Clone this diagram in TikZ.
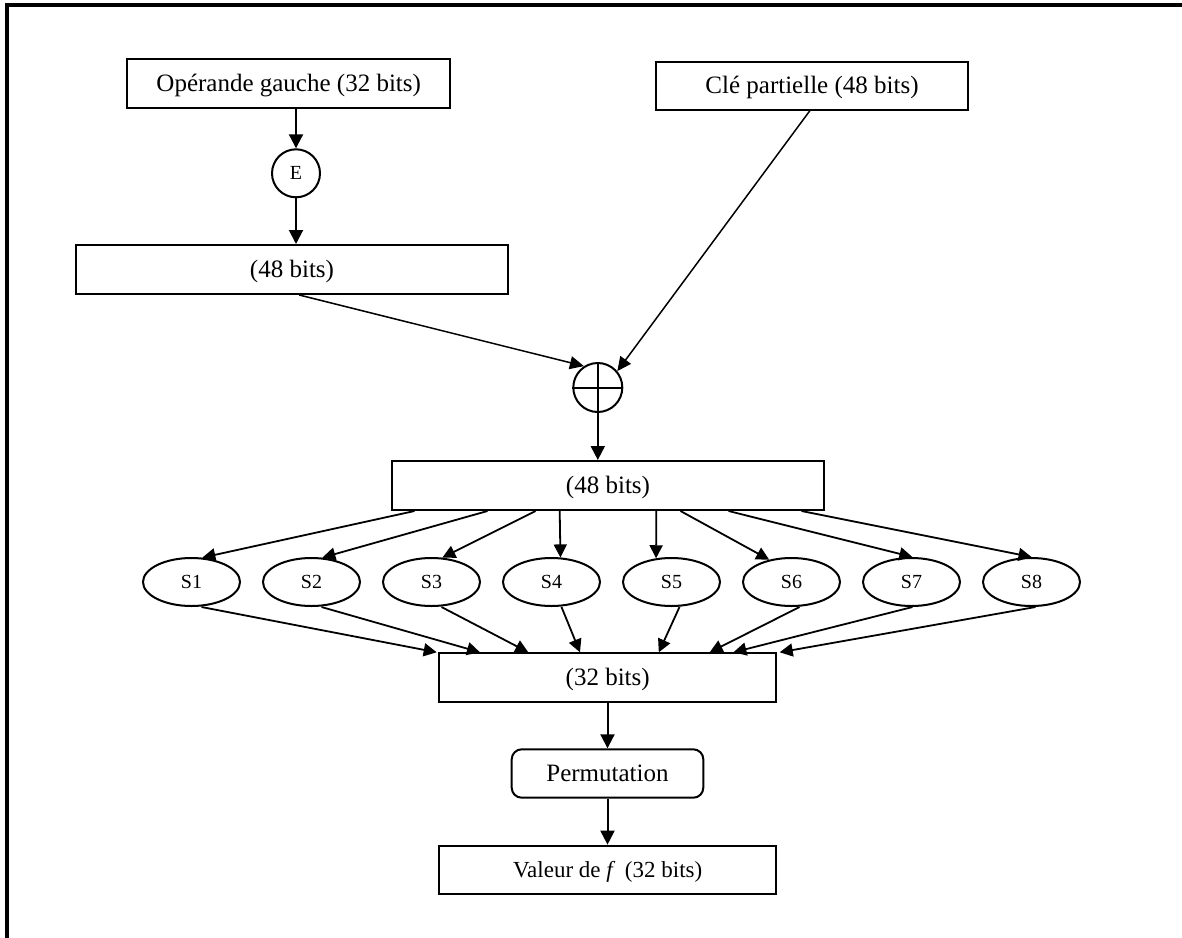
\documentclass[tikz,border=0pt]{standalone}
\usepackage{fontspec}
\setmainfont{Liberation Serif}
\usetikzlibrary{arrows.meta,shapes.geometric}
\begin{document}
\begin{tikzpicture}[x=1pt,y=-1pt,
  box/.style={draw, line width=2pt, inner sep=0pt, rectangle,
    font=\fontsize{25}{30}\selectfont, text height=20pt, text depth=5pt},
  sbox/.style={draw, line width=2pt, inner sep=0pt, ellipse,
    minimum width=97pt, minimum height=48pt,
    font=\fontsize{20}{24}\selectfont, text height=15pt, text depth=2pt},
  ebox/.style={draw, line width=2pt, inner sep=0pt, circle,
    minimum size=48pt, font=\fontsize{20}{24}\selectfont, text height=15pt, text depth=2pt},
  xorbox/.style={draw, line width=2pt, inner sep=0pt, circle, minimum size=49pt},
  arr/.style={line width=2pt, -{Triangle[length=14pt,width=14pt]}},
  sarr/.style={line width=1.8pt, -{Triangle[length=13pt,width=13pt]}},
  thinarr/.style={line width=1.5pt, -{Triangle[length=14pt,width=13pt]}},
  frame/.style={line width=4pt}
]
\useasboundingbox (0,0) rectangle (1182,937);
\draw[frame] (7,1000) -- (7,5) -- (1300,5);

\node[box, minimum width=322.7pt, minimum height=49pt] (op) at (288.7,83.8) {Opérande gauche (32 bits)};
\node[ebox] (E) at (296,173.3) {E};
\node[box, minimum width=432.7pt, minimum height=49pt] (l48) at (292,269.5) {(48 bits)};
\node[box, minimum width=312.7pt, minimum height=48pt] (cle) at (812,85.5) {Clé partielle (48 bits)};
\node[xorbox] (xor) at (597.8,387.5) {};
\draw[line width=2pt] (xor.north) -- (xor.south) (xor.west) -- (xor.east);
\node[box, minimum width=432.6pt, minimum height=49pt] (big) at (608,485.5) {(48 bits)};
\foreach \i in {1,...,8} {
  \node[sbox] (S\i) at ({191.5+120*(\i-1)},582) {S\i};
}
\node[box, minimum width=336.7pt, minimum height=48.4pt] (b32) at (607.7,677.5) {(32 bits)};
\node[box, rounded corners=10pt, minimum width=191.6pt, minimum height=48.4pt] (perm) at (607.5,773.5) {Permutation};
\node[box, minimum width=336.7pt, minimum height=48.3pt, font=\fontsize{23}{28}\selectfont] (val) at (607.7,869.8) {Valeur de \textit{f}\, (32 bits)};

\draw[arr] (op.south -| E) -- (E.north);
\draw[arr] (E.south) -- (E |- l48.north);
\draw[thinarr] ([xshift=7.3pt]l48.south) -- (xor.123);
\draw[thinarr] ([xshift=-2pt]cle.south) -- (xor.40);
\draw[arr] (xor.south) -- (xor |- big.north);

\foreach \i/\sx/\ta/\bx/\ex in {1/-193.5/66.9/10/-171, 2/-120.5/66.9/10/-127.7,
  3/-72.5/66.9/10/-79.4, 4/-48.3/70.2/10/-27.7, 5/48.3/123.3/8/51.1,
  6/72.5/135/8/102, 7/120.5/88.5/1/125.7, 8/193.5/90/4/172} {
  \draw[sarr] ([xshift=\sx pt]big.south) -- (S\i.\ta);
  \draw[sarr] ([xshift=\bx pt]S\i.south) -- ([xshift=\ex pt]b32.north);
}

\draw[arr] (b32.south -| perm) -- (perm.north);
\draw[arr] (perm.south) -- (perm |- val.north);
\end{tikzpicture}
\end{document}
